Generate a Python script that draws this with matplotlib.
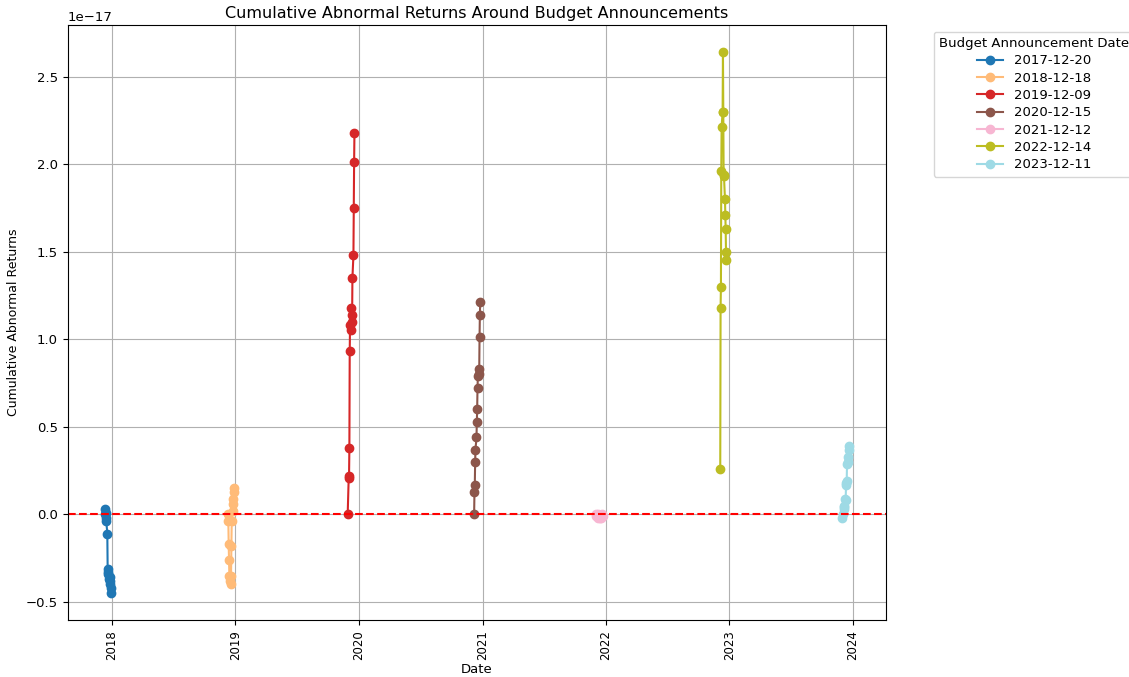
import matplotlib
matplotlib.use("Agg")
import matplotlib.pyplot as plt
import matplotlib.dates as mdates
import numpy as np
import pandas as pd

# Event (budget announcement) dates
event_dates = ["2017-12-20", "2018-12-18", "2019-12-09", "2020-12-15",
               "2021-12-12", "2022-12-14", "2023-12-11"]

# Window half-width in calendar days around each event
window_days = 10

# Cumulative abnormal returns (units of 1e-17), in time order within each window
car_2017 = [0.00, 0.03, 0.01, -0.02, -0.04, -0.11, -0.31, -0.34, -0.33, -0.37,
            -0.40, -0.38, -0.36, -0.42, -0.45]
car_2018 = [0.00, -0.04, -0.17, -0.26, -0.35, -0.38, -0.40, -0.35, -0.18, -0.04,
            0.02, 0.06, 0.09, 0.13, 0.15]
car_2019 = [0.00, 0.21, 0.22, 0.38, 0.93, 1.08, 1.05, 1.18, 1.14, 1.10,
            1.35, 1.48, 1.75, 2.01, 2.18]
car_2020 = [0.00, 0.13, 0.17, 0.30, 0.37, 0.44, 0.53, 0.60, 0.72, 0.79,
            0.83, 0.80, 1.01, 1.14, 1.21]
car_2021 = [0.00, -0.01, -0.01, -0.02, -0.01, 0.00, -0.01, -0.02, -0.01, -0.01,
            -0.02, -0.01, 0.00, -0.01, -0.01]
car_2022 = [0.26, 1.18, 1.30, 1.96, 2.21, 2.30, 2.64, 2.30, 1.94, 1.93,
            1.80, 1.71, 1.63, 1.50, 1.45]
car_2023 = [-0.02, 0.00, 0.03, 0.05, 0.04, 0.09, 0.08, 0.17, 0.18, 0.19,
            0.29, 0.30, 0.33, 0.37, 0.39]

series = [car_2017, car_2018, car_2019, car_2020, car_2021, car_2022, car_2023]
SCALE = 1e-17

fig = plt.figure(figsize=(11.29, 6.77), dpi=100)
ax = fig.add_axes([0.060, 0.084, 0.725, 0.879])

colors = plt.cm.tab20(np.linspace(0, 1, len(event_dates)))

for ev, vals, c in zip(event_dates, series, colors):
    d = pd.Timestamp(ev)
    dates = pd.bdate_range(d - pd.Timedelta(days=window_days),
                           d + pd.Timedelta(days=window_days))
    n = min(len(dates), len(vals))
    ax.plot(dates[:n], np.array(vals[:n]) * SCALE, marker="o",
            color=c, label=ev)

ax.axhline(0, color="red", linestyle="--", linewidth=1.5)

ax.xaxis.set_major_locator(mdates.YearLocator())
ax.xaxis.set_major_formatter(mdates.DateFormatter("%Y"))
ax.tick_params(axis="x", labelsize=8.5, labelrotation=90)
ax.tick_params(axis="y", labelsize=9.5)
ax.yaxis.get_offset_text().set_fontsize(9.5)

ax.set_title("Cumulative Abnormal Returns Around Budget Announcements",
             fontsize=11.5, pad=5)
ax.set_xlabel("Date", fontsize=9.5, labelpad=2)
ax.set_ylabel("Cumulative Abnormal Returns", fontsize=9)
ax.grid(True)
ax.legend(title="Budget Announcement Date", bbox_to_anchor=(1.05, 1),
          loc="upper left", fontsize=9.5, title_fontsize=9.5,
          labelspacing=0.33)

fig.savefig("out.png", dpi=100)
